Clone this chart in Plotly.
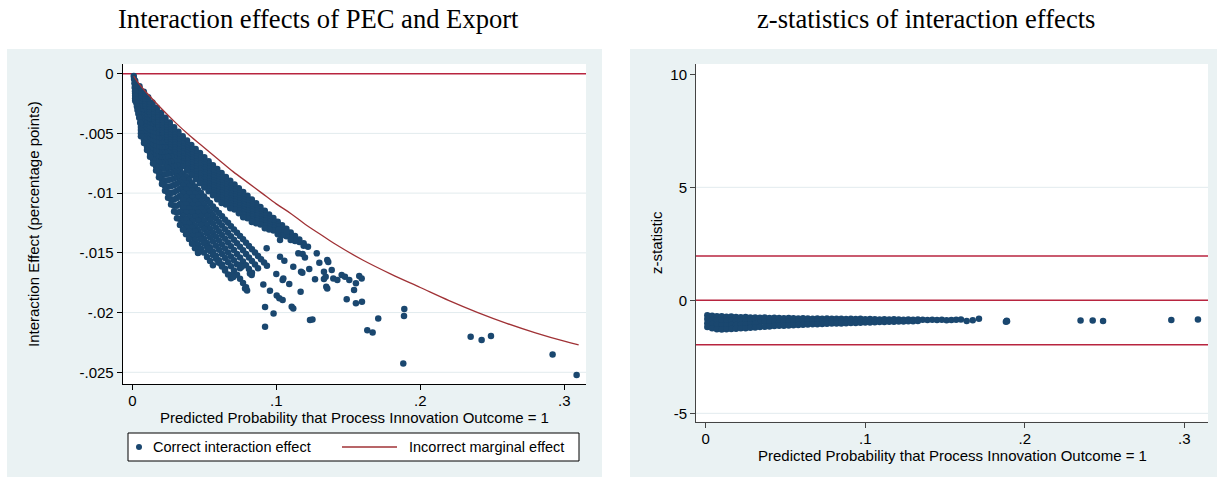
import plotly.graph_objects as go

# ---------------------------------------------------------------
# Left panel: correct interaction effect vs predicted probability
# Upper dense band, listed strand by strand on a common p grid
# ---------------------------------------------------------------
band_p = [0.002, 0.005, 0.008, 0.011, 0.014, 0.017, 0.020, 0.023, 0.026, 0.029,
          0.032, 0.035, 0.038, 0.041, 0.044, 0.047, 0.050, 0.053, 0.056, 0.059,
          0.062, 0.065, 0.068, 0.071, 0.074, 0.077, 0.080, 0.083, 0.086, 0.089,
          0.092, 0.095, 0.098, 0.101, 0.104, 0.107, 0.110, 0.113, 0.116, 0.119, 0.122]

s1_ie = [-0.00059, -0.00106, -0.00152, -0.00198, -0.00241, -0.00285, -0.00328, -0.00368, -0.00408, -0.00448,
         -0.00486, -0.00523, -0.00560, -0.00597, -0.00631, -0.00665, -0.00700, -0.00733, -0.00766, -0.00799,
         -0.00831, -0.00864, -0.00896, -0.00928, -0.00959, -0.00991, -0.01022, -0.01053, -0.01084, -0.01116,
         -0.01147, -0.01178, -0.01208, -0.01239, -0.01269, -0.01299, -0.01329, -0.01359, -0.01389, -0.01419,
         -0.01449]
t1_ie = [-0.00080, -0.00127, -0.00173, -0.00219, -0.00262, -0.00306, -0.00349, -0.00389, -0.00429, -0.00469,
         -0.00507, -0.00544, -0.00581, -0.00618, -0.00652, -0.00686, -0.00721, -0.00754, -0.00787, -0.00820,
         -0.00852, -0.00885, -0.00917, -0.00949, -0.00980, -0.01012, -0.01043, -0.01074, -0.01105, -0.01137,
         -0.01168, -0.01199, -0.01229, -0.01260, -0.01290, -0.01320, -0.01350, -0.01380, -0.01410, -0.01440]
s2_ie = [-0.00101, -0.00148, -0.00194, -0.00240, -0.00283, -0.00327, -0.00370, -0.00410, -0.00450, -0.00490,
         -0.00528, -0.00565, -0.00602, -0.00639, -0.00673, -0.00707, -0.00742, -0.00775, -0.00808, -0.00841,
         -0.00873, -0.00906, -0.00938, -0.00970, -0.01001, -0.01033, -0.01064, -0.01095, -0.01126, -0.01158,
         -0.01189, -0.01220, -0.01250, -0.01281, -0.01311, -0.01341, -0.01371, -0.01401]
t2_ie = [-0.00122, -0.00169, -0.00215, -0.00261, -0.00304, -0.00348, -0.00391, -0.00431, -0.00471, -0.00511,
         -0.00549, -0.00586, -0.00623, -0.00660, -0.00694, -0.00728, -0.00763, -0.00796, -0.00829, -0.00862,
         -0.00894, -0.00927, -0.00959, -0.00991, -0.01022, -0.01054, -0.01085, -0.01116, -0.01147, -0.01179,
         -0.01210, -0.01241, -0.01271, -0.01302, -0.01332, -0.01362, -0.01392]
s3_ie = [-0.00143, -0.00190, -0.00236, -0.00282, -0.00325, -0.00369, -0.00412, -0.00452, -0.00492, -0.00532,
         -0.00570, -0.00607, -0.00644, -0.00681, -0.00715, -0.00749, -0.00784, -0.00817, -0.00850, -0.00883,
         -0.00915, -0.00948, -0.00980, -0.01012, -0.01043, -0.01075, -0.01106, -0.01137, -0.01168, -0.01200,
         -0.01231, -0.01262, -0.01292, -0.01323, -0.01353]
t3_ie = [-0.00164, -0.00211, -0.00257, -0.00303, -0.00346, -0.00390, -0.00433, -0.00473, -0.00513, -0.00553,
         -0.00591, -0.00628, -0.00665, -0.00702, -0.00736, -0.00770, -0.00805, -0.00838, -0.00871, -0.00904,
         -0.00936, -0.00969, -0.01001, -0.01033, -0.01064, -0.01096, -0.01127, -0.01158, -0.01189, -0.01221,
         -0.01252, -0.01283, -0.01313, -0.01344]
s4_ie = [-0.00185, -0.00232, -0.00278, -0.00324, -0.00367, -0.00411, -0.00454, -0.00494, -0.00534, -0.00574,
         -0.00612, -0.00649, -0.00686, -0.00723, -0.00757, -0.00791, -0.00826, -0.00859, -0.00892, -0.00925,
         -0.00957, -0.00990, -0.01022, -0.01054, -0.01085, -0.01117, -0.01148, -0.01179, -0.01210, -0.01242,
         -0.01273, -0.01304]
t4_ie = [-0.00206, -0.00253, -0.00299, -0.00345, -0.00388, -0.00432, -0.00475, -0.00515, -0.00555, -0.00595,
         -0.00633, -0.00670, -0.00707, -0.00744, -0.00778, -0.00812, -0.00847, -0.00880, -0.00913, -0.00946,
         -0.00978, -0.01011, -0.01043, -0.01075, -0.01106, -0.01138, -0.01169, -0.01200, -0.01231, -0.01263,
         -0.01294]
s5_ie = [-0.00227, -0.00274, -0.00320, -0.00366, -0.00409, -0.00453, -0.00496, -0.00536, -0.00576, -0.00616,
         -0.00654, -0.00691, -0.00728, -0.00765, -0.00799, -0.00833, -0.00868, -0.00901, -0.00934, -0.00967,
         -0.00999, -0.01032, -0.01064, -0.01096, -0.01127, -0.01159, -0.01190, -0.01221, -0.01252]
# lower strands of the band start further out along the grid (p = 0.008, 0.011, 0.014, 0.014)
t5_ie = [-0.00341, -0.00387, -0.00430, -0.00474, -0.00517, -0.00557, -0.00597, -0.00637, -0.00675, -0.00712,
         -0.00749, -0.00786, -0.00820, -0.00854, -0.00889, -0.00922, -0.00955, -0.00988, -0.01020, -0.01053,
         -0.01085, -0.01117, -0.01148, -0.01180, -0.01211, -0.01242]
s6_ie = [-0.00408, -0.00451, -0.00495, -0.00538, -0.00578, -0.00618, -0.00658, -0.00696, -0.00733, -0.00770,
         -0.00807, -0.00841, -0.00875, -0.00910, -0.00943, -0.00976, -0.01009, -0.01041, -0.01074, -0.01106,
         -0.01138, -0.01169, -0.01201]
t6_ie = [-0.00472, -0.00516, -0.00559, -0.00599, -0.00639, -0.00679, -0.00717, -0.00754, -0.00791, -0.00828,
         -0.00862, -0.00896, -0.00931, -0.00964, -0.00997, -0.01030, -0.01062, -0.01095, -0.01127]
s7_ie = [-0.00493, -0.00537, -0.00580, -0.00620, -0.00660, -0.00700, -0.00738, -0.00775, -0.00812, -0.00849,
         -0.00883, -0.00917, -0.00952, -0.00985, -0.01018, -0.01051, -0.01083]

# Rays of the lower fan, listed on a common p grid
ray_p = [0.0060, 0.0081, 0.0102, 0.0123, 0.0144, 0.0165, 0.0185, 0.0206, 0.0227, 0.0248,
         0.0269, 0.0290, 0.0310, 0.0331, 0.0352, 0.0373, 0.0394, 0.0415, 0.0435, 0.0456,
         0.0477, 0.0498, 0.0519, 0.0540, 0.0560, 0.0581, 0.0602, 0.0623, 0.0644, 0.0665,
         0.0685, 0.0706, 0.0727, 0.0748, 0.0769, 0.0790, 0.0810, 0.0831, 0.0852, 0.0873,
         0.0894, 0.0915, 0.0935]

ray_a = [-0.00317, -0.00354, -0.00392, -0.00430, -0.00467, -0.00505, -0.00543, -0.00580, -0.00618, -0.00656,
         -0.00693, -0.00731, -0.00769, -0.00807, -0.00835, -0.00862, -0.00890, -0.00918, -0.00945, -0.00973,
         -0.01000, -0.01028, -0.01056, -0.01083, -0.01111, -0.01139, -0.01166, -0.01194, -0.01222, -0.01249,
         -0.01277, -0.01304, -0.01332, -0.01360, -0.01387, -0.01415, -0.01443, -0.01470, -0.01498, -0.01526,
         -0.01553, -0.01581, -0.01609]
ray_ab = [-0.00343, -0.00382, -0.00421, -0.00461, -0.00501, -0.00540, -0.00580, -0.00620, -0.00659, -0.00698,
          -0.00738, -0.00778, -0.00817, -0.00857, -0.00887, -0.00917, -0.00946, -0.00976, -0.01005, -0.01035,
          -0.01065, -0.01094, -0.01124, -0.01154, -0.01183, -0.01213, -0.01242, -0.01272, -0.01302, -0.01331,
          -0.01361, -0.01391, -0.01420, -0.01450, -0.01479, -0.01509, -0.01539, -0.01568, -0.01598, -0.01628]
ray_b = [-0.00368, -0.00409, -0.00451, -0.00492, -0.00534, -0.00575, -0.00617, -0.00658, -0.00700, -0.00741,
         -0.00783, -0.00824, -0.00866, -0.00907, -0.00939, -0.00970, -0.01002, -0.01034, -0.01065, -0.01097,
         -0.01129, -0.01160, -0.01192, -0.01224, -0.01255, -0.01287, -0.01319, -0.01350, -0.01382, -0.01414,
         -0.01445, -0.01477, -0.01509, -0.01540, -0.01572, -0.01604, -0.01635, -0.01667]
ray_bc = [-0.00394, -0.00438, -0.00482, -0.00526, -0.00570, -0.00614, -0.00658, -0.00702, -0.00746, -0.00790,
          -0.00834, -0.00878, -0.00922, -0.00966, -0.00999, -0.01032, -0.01066, -0.01099, -0.01132, -0.01165,
          -0.01198, -0.01231, -0.01265, -0.01298, -0.01331, -0.01364, -0.01397, -0.01430, -0.01464, -0.01497,
          -0.01530, -0.01563, -0.01596, -0.01629]
ray_c = [-0.00420, -0.00466, -0.00513, -0.00559, -0.00606, -0.00652, -0.00699, -0.00745, -0.00792, -0.00838,
         -0.00885, -0.00931, -0.00978, -0.01024, -0.01059, -0.01093, -0.01128, -0.01163, -0.01197, -0.01232,
         -0.01267, -0.01301, -0.01336, -0.01371, -0.01405, -0.01440, -0.01475, -0.01509, -0.01544, -0.01579,
         -0.01613, -0.01648, -0.01683, -0.01717, -0.01752, -0.01787]
ray_cd = [-0.00446, -0.00496, -0.00545, -0.00595, -0.00645, -0.00694, -0.00744, -0.00793, -0.00843, -0.00893,
          -0.00942, -0.00992, -0.01041, -0.01091, -0.01127, -0.01163, -0.01200, -0.01236, -0.01272, -0.01308,
          -0.01344, -0.01380, -0.01417, -0.01453, -0.01489, -0.01525, -0.01561, -0.01597, -0.01634]
ray_d = [-0.00472, -0.00525, -0.00578, -0.00630, -0.00683, -0.00736, -0.00789, -0.00841, -0.00894, -0.00947,
         -0.01000, -0.01053, -0.01105, -0.01158, -0.01191, -0.01223, -0.01256, -0.01289, -0.01321, -0.01354,
         -0.01387, -0.01419, -0.01452, -0.01485, -0.01517, -0.01550, -0.01583, -0.01615, -0.01648, -0.01681,
         -0.01713]
ray_de = [-0.00498, -0.00553, -0.00609, -0.00664, -0.00719, -0.00774, -0.00830, -0.00885, -0.00940, -0.00996,
          -0.01051, -0.01106, -0.01162, -0.01217, -0.01252, -0.01287, -0.01323, -0.01358, -0.01393, -0.01428,
          -0.01463, -0.01498, -0.01534, -0.01569, -0.01604]
ray_e = [-0.00524, -0.00581, -0.00638, -0.00696, -0.00753, -0.00810, -0.00867, -0.00924, -0.00981, -0.01039,
         -0.01096, -0.01153, -0.01210, -0.01267, -0.01306, -0.01345, -0.01384, -0.01423, -0.01462, -0.01501]

# observations right at the apex (very small probabilities)
apex_p = [0.0010, 0.0012, 0.0015, 0.0017, 0.0019, 0.0021, 0.0024, 0.0028, 0.0032, 0.0036, 0.0042, 0.0048, 0.0055]
apex_ie = [-0.00020, -0.00045, -0.00080, -0.00115, -0.00150, -0.00185, -0.00215, -0.00245, -0.00275, -0.00305,
           -0.00335, -0.00370, -0.00410]

# sparse observations beyond the dense fan
sparse_p = [0.0458, 0.0528, 0.0597, 0.0621, 0.0690, 0.0701, 0.0748, 0.0760, 0.0783, 0.0797,
            0.0817, 0.0829, 0.0910, 0.0922, 0.0922, 0.0956, 0.0981, 0.1003, 0.1021, 0.1044,
            0.0933, 0.1000, 0.1026, 0.1044, 0.1056, 0.1090, 0.1107, 0.1118, 0.1118, 0.1169,
            0.1172, 0.1181, 0.1153, 0.1183, 0.1199, 0.1229, 0.1234, 0.1251, 0.1269, 0.1281,
            0.1299, 0.1331, 0.1331, 0.1347, 0.1354, 0.1354, 0.1361, 0.1385, 0.1396, 0.1424,
            0.1454, 0.1477, 0.1507, 0.1489, 0.1540, 0.1553, 0.1553, 0.1576, 0.1593, 0.1595,
            0.1632, 0.1669, 0.1708, 0.1882, 0.1887, 0.1889, 0.2350, 0.2426, 0.2491, 0.2919,
            0.3086, 0.1014, 0.1072, 0.1026, 0.1049, 0.1343]
sparse_ie = [-0.01499, -0.01464, -0.01575, -0.01602, -0.01686, -0.01703, -0.01602, -0.01616, -0.01799, -0.01816,
             -0.01672, -0.01686, -0.01765, -0.01954, -0.02119, -0.01817, -0.02007, -0.01858, -0.01881, -0.01895,
             -0.01462, -0.01678, -0.01533, -0.01728, -0.01566, -0.01761, -0.01951, -0.01965, -0.01616, -0.01826,
             -0.01658, -0.01667, -0.01504, -0.01510, -0.01538, -0.01636, -0.02063, -0.02059, -0.01722, -0.01504,
             -0.01583, -0.01658, -0.01719, -0.01784, -0.01799, -0.01560, -0.01577, -0.01644, -0.01714, -0.01728,
             -0.01686, -0.01700, -0.01728, -0.01889, -0.01812, -0.01755, -0.01923, -0.01694, -0.01714, -0.01910,
             -0.02147, -0.02166, -0.02049, -0.02426, -0.02029, -0.01971, -0.02203, -0.02230, -0.02197, -0.02350,
             -0.02523, -0.01309, -0.01323, -0.01393, -0.01714, -0.01700]

# incorrect marginal effect curve
me_p = [0.001, 0.005, 0.01, 0.02, 0.03, 0.04, 0.05, 0.06, 0.07, 0.08, 0.09, 0.10, 0.11, 0.12, 0.13,
        0.14, 0.16, 0.18, 0.20, 0.22, 0.24, 0.26, 0.28, 0.30, 0.31]
me_val = [-0.0002, -0.0009, -0.0016, -0.0029, -0.0041, -0.0052, -0.0062, -0.0072, -0.0082, -0.0091, -0.0100,
          -0.0109, -0.0117, -0.0126, -0.0134, -0.0142, -0.0156, -0.0168, -0.0179, -0.0190, -0.0200, -0.0209,
          -0.0217, -0.0224, -0.0227]

# ---------------------------------------------------------------
# Right panel: z-statistics of the interaction effects
# ---------------------------------------------------------------
z_p = [0.001, 0.004, 0.007, 0.010, 0.013, 0.016, 0.019, 0.022, 0.025, 0.028,
       0.031, 0.034, 0.037, 0.040, 0.043, 0.046, 0.049, 0.052, 0.055, 0.058,
       0.061, 0.064, 0.067, 0.070, 0.073, 0.076, 0.079, 0.082, 0.085, 0.088,
       0.091, 0.094, 0.097, 0.100, 0.103, 0.106, 0.109, 0.112, 0.115, 0.118,
       0.121, 0.124, 0.127, 0.130, 0.133, 0.136, 0.139, 0.142, 0.145, 0.148,
       0.151, 0.154, 0.157, 0.160]
z_top = [-0.66, -0.68, -0.70, -0.71, -0.73, -0.72, -0.74, -0.75, -0.74, -0.76,
         -0.76, -0.77, -0.76, -0.78, -0.77, -0.78, -0.79, -0.78, -0.79, -0.80,
         -0.79, -0.80, -0.81, -0.80, -0.81, -0.80, -0.82, -0.81, -0.82, -0.83,
         -0.82, -0.83, -0.82, -0.84, -0.83, -0.84, -0.85, -0.84, -0.85, -0.84,
         -0.85, -0.86, -0.85, -0.86, -0.85, -0.86, -0.87, -0.86, -0.87, -0.86,
         -0.88, -0.87, -0.86, -0.85]
z_mid1 = [-0.83, -0.87, -0.89, -0.90, -0.91, -0.90, -0.91, -0.91, -0.90, -0.91,
          -0.91, -0.98, -0.96, -0.97, -0.95, -0.96, -0.95, -0.94, -0.95, -0.94,
          -0.93, -0.94, -0.93, -0.93, -0.93, -0.92, -0.92, -0.92, -0.92]
z_mid2 = [-1.01, -1.05, -1.09, -1.10, -1.10, -1.09, -1.09, -1.08, -1.07, -1.06, -1.05]
z_bot = [-1.18, -1.24, -1.28, -1.29, -1.28, -1.27, -1.26, -1.24, -1.23, -1.21,
         -1.20, -1.18, -1.17, -1.16, -1.14, -1.13, -1.12, -1.11, -1.10, -1.09,
         -1.08, -1.07, -1.06, -1.06, -1.05, -1.04, -1.03, -1.03, -1.02, -1.01,
         -1.00, -1.00, -0.99, -0.98, -0.98, -0.97, -0.96, -0.96, -0.95, -0.95,
         -0.94, -0.94, -0.93, -0.93, -0.92]
z_tail_p = [0.1636, 0.1674, 0.1713, 0.1882, 0.1887, 0.1889, 0.2350, 0.2426, 0.2491, 0.2919, 0.3086]
z_tail = [-0.92, -0.88, -0.81, -0.95, -0.90, -0.93, -0.89, -0.89, -0.92, -0.87, -0.85]

z_crit = [1.96, 0.0, -1.96]

# tick labels
x_ticks = [0, 0.1, 0.2, 0.3]
x_labels = ["0", ".1", ".2", ".3"]
left_yticks = [0, -0.005, -0.01, -0.015, -0.02, -0.025]
left_ylabels = ["0", "-.005", "-.01", "-.015", "-.02", "-.025"]
right_yticks = [10, 5, 0, -5]
right_ylabels = ["10", "5", "0", "-5"]

# ---------------------------------------------------------------
# assemble point sets
# ---------------------------------------------------------------
left_x, left_y = [], []


def add_points(ps, ys):
    for a, b in zip(ps, ys):
        left_x.append(a)
        left_y.append(b)


for strand in (s1_ie, t1_ie, s2_ie, t2_ie, s3_ie, t3_ie, s4_ie, t4_ie, s5_ie):
    add_points(band_p, strand)
add_points(band_p[2:], t5_ie)
add_points(band_p[3:], s6_ie)
add_points(band_p[4:], t6_ie)
add_points(band_p[4:], s7_ie)
for ray in (ray_a, ray_ab, ray_b, ray_bc, ray_c, ray_cd, ray_d, ray_de, ray_e):
    add_points(ray_p, ray)
add_points(apex_p, apex_ie)
add_points(sparse_p, sparse_ie)

right_x, right_y = [], []
for row in (z_top, z_mid1, z_mid2, z_bot):
    for a, b in zip(z_p, row):
        right_x.append(a)
        right_y.append(b)
for a, b in zip(z_tail_p, z_tail):
    right_x.append(a)
    right_y.append(b)

# ---------------------------------------------------------------
# styling / geometry (pixels on a 1218 x 479 canvas)
# ---------------------------------------------------------------
W, H = 1218, 479
NAVY = "#1A476F"
MAROON = "#A03236"
YLINE = "#B8243F"
REGION = "#EAF2F3"
GRID = "#E2EBEE"
SANS = "Liberation Sans, Arial, sans-serif"
SERIF = "Liberation Serif, Times New Roman, serif"
MSIZE = 6.5


def fx(px):
    return px / W


def fy(py):
    return 1 - py / H


L_PLOT = (122.7, 586.0, 64.0, 384.0)     # left, right, top, bottom
R_PLOT = (696.0, 1208.0, 64.0, 421.7)

fig = go.Figure()

fig.add_trace(go.Scatter(
    x=left_x, y=left_y, mode="markers", xaxis="x", yaxis="y",
    name="Correct interaction effect", showlegend=False,
    marker=dict(color=NAVY, size=MSIZE, line=dict(width=0)),
))
fig.add_trace(go.Scatter(
    x=me_p, y=me_val, mode="lines", xaxis="x", yaxis="y",
    name="Incorrect marginal effect", showlegend=False,
    line=dict(color=MAROON, width=1.3, shape="spline"),
))
fig.add_trace(go.Scatter(
    x=right_x, y=right_y, mode="markers", xaxis="x2", yaxis="y2",
    showlegend=False, marker=dict(color=NAVY, size=MSIZE, line=dict(width=0)),
))

tickfont = dict(family=SANS, size=15, color="black")
axis_common = dict(showline=True, linewidth=1, ticks="outside", ticklen=5, tickwidth=1,
                   showgrid=False, zeroline=False, tickfont=tickfont, fixedrange=True)

fig.update_layout(
    width=W, height=H,
    margin=dict(l=0, r=0, t=0, b=0),
    paper_bgcolor="white", plot_bgcolor="white",
    xaxis=dict(domain=[fx(L_PLOT[0]), fx(L_PLOT[1])], range=[-0.00667, 0.3151], anchor="y",
               tickvals=x_ticks, ticktext=x_labels, linecolor="black", tickcolor="black",
               ticklabelstandoff=-2, **axis_common),
    yaxis=dict(domain=[fy(L_PLOT[3]), fy(L_PLOT[2])], range=[-0.02598, 0.00081], anchor="x",
               tickvals=left_yticks, ticktext=left_ylabels, linecolor="black", tickcolor="black",
               **axis_common),
    xaxis2=dict(domain=[fx(R_PLOT[0]), fx(R_PLOT[1])], range=[-0.0061, 0.3149], anchor="y2",
                tickvals=x_ticks, ticktext=x_labels, linecolor="#444444", tickcolor="#444444",
                ticklabelstandoff=-2, **axis_common),
    yaxis2=dict(domain=[fy(R_PLOT[3]), fy(R_PLOT[2])], range=[-5.37, 10.456], anchor="x2",
                tickvals=right_yticks, ticktext=right_ylabels, linecolor="#444444", tickcolor="#444444",
                **axis_common),
)

shapes = []
# graph regions and white plot regions
for x0, x1 in ((7, 602), (630, 1217)):
    shapes.append(dict(type="rect", xref="paper", yref="paper", x0=fx(x0), x1=fx(x1),
                       y0=fy(477), y1=fy(49), fillcolor=REGION, line=dict(width=0), layer="below"))
for pl in (L_PLOT, R_PLOT):
    shapes.append(dict(type="rect", xref="paper", yref="paper", x0=fx(pl[0]), x1=fx(pl[1]),
                       y0=fy(pl[3]), y1=fy(pl[2]), fillcolor="white", line=dict(width=0), layer="below"))
# grid lines
for v in left_yticks[1:]:
    shapes.append(dict(type="line", xref="x domain", yref="y", x0=0, x1=1, y0=v, y1=v,
                       line=dict(color=GRID, width=1), layer="below"))
for v in (5, -5):
    shapes.append(dict(type="line", xref="x2 domain", yref="y2", x0=0, x1=1, y0=v, y1=v,
                       line=dict(color=GRID, width=1), layer="below"))
# reference lines
shapes.append(dict(type="line", xref="x domain", yref="y", x0=0, x1=1, y0=0, y1=0,
                   line=dict(color=YLINE, width=1.6), layer="below"))
for v in z_crit:
    shapes.append(dict(type="line", xref="x2 domain", yref="y2", x0=0, x1=1, y0=v, y1=v,
                       line=dict(color=YLINE, width=1.5), layer="below"))
# legend box
shapes.append(dict(type="rect", xref="paper", yref="paper", x0=fx(128), x1=fx(579),
                   y0=fy(461), y1=fy(433), fillcolor="white", line=dict(color="black", width=1)))
shapes.append(dict(type="circle", xref="paper", yref="paper", x0=fx(136), x1=fx(142),
                   y0=fy(450), y1=fy(444), fillcolor=NAVY, line=dict(width=0)))
shapes.append(dict(type="line", xref="paper", yref="paper", x0=fx(342), x1=fx(397),
                   y0=fy(447), y1=fy(447), line=dict(color=MAROON, width=1.3)))
fig.update_layout(shapes=shapes)

ann = []


def text(s, x, y, size, family=SANS, xanchor="center", angle=0):
    ann.append(dict(text=s, x=fx(x), y=fy(y), xref="paper", yref="paper", showarrow=False,
                    xanchor=xanchor, yanchor="middle", textangle=angle,
                    font=dict(family=family, size=size, color="black")))


text("Interaction effects of PEC and Export", 318, 19, 26.6, family=SERIF)
text("z-statistics of interaction effects", 926, 19, 26.6, family=SERIF)
text("Predicted Probability that Process Innovation Outcome = 1", 354, 417, 15)
text("Predicted Probability that Process Innovation Outcome = 1", 952, 455, 15)
text("Interaction Effect (percentage points)", 33, 224, 15, angle=-90)
text("z-statistic", 656, 243, 15, angle=-90)
text("Correct interaction effect", 151, 447, 14.5, xanchor="left")
text("Incorrect marginal effect", 407, 447, 14.5, xanchor="left")
fig.update_layout(annotations=ann)

fig.write_html("out.html")
